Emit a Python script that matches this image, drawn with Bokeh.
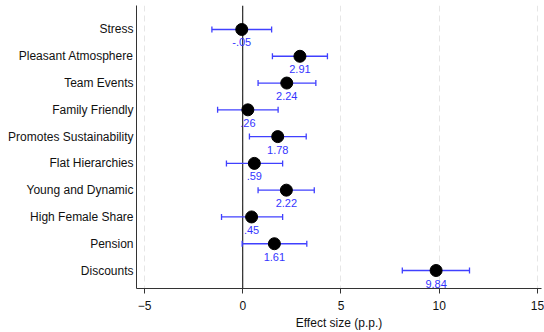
from bokeh.plotting import figure
from bokeh.models import Range1d, ColumnDataSource, FixedTicker, Whisker, TeeHead, Span
from bokeh.embed import file_html
from bokeh.resources import INLINE

categories = ["Stress", "Pleasant Atmosphere", "Team Events", "Family Friendly",
              "Promotes Sustainability", "Flat Hierarchies", "Young and Dynamic",
              "High Female Share", "Pension", "Discounts"]
effects = [-0.05, 2.91, 2.24, 0.26, 1.78, 0.59, 2.22, 0.45, 1.61, 9.84]
ci_low = [-1.57, 1.51, 0.78, -1.28, 0.34, -0.83, 0.78, -1.08, -0.03, 8.12]
ci_high = [1.47, 4.31, 3.72, 1.80, 3.23, 2.03, 3.64, 2.03, 3.26, 11.54]
x_ticks = [-5, 0, 5, 10, 15]


def stata_fmt(v):
    s = f"{v:.2f}"
    if s.startswith("0."):
        s = s[1:]
    elif s.startswith("-0."):
        s = "-" + s[2:]
    return s


rows = list(range(1, len(categories) + 1))
src = ColumnDataSource(dict(
    y=rows, x=effects, lo=ci_low, hi=ci_high,
    label=[stata_fmt(v) for v in effects],
))

FONT = "Liberation Sans"

p = figure(width=544, height=332, output_backend="svg", toolbar_location=None,
           x_range=Range1d(-5.407, 15.204), y_range=Range1d(10.672, 0.104),
           min_border_left=136, min_border_right=3, min_border_top=5,
           min_border_bottom=44)
p.outline_line_color = None
p.background_fill_color = "white"

# grid
p.xgrid.ticker = FixedTicker(ticks=x_ticks)
p.xgrid.grid_line_color = "#e6e6e6"
p.xgrid.grid_line_dash = "6 4"
p.xgrid.grid_line_width = 1
p.ygrid.visible = False

# zero reference line
zero = Span(location=0, dimension="height", line_color="black", line_width=1)
zero.level = "underlay"
p.add_layout(zero)

# confidence intervals
wh = Whisker(base="y", lower="lo", upper="hi", dimension="width", source=src,
             line_color="#4040ff", line_width=1.3,
             upper_head=TeeHead(size=6, line_color="#4040ff", line_width=1.3),
             lower_head=TeeHead(size=6, line_color="#4040ff", line_width=1.3))
wh.level = "underlay"
p.add_layout(wh)

p.scatter(x="x", y="y", source=src, size=12, color="black")
p.text(x="x", y="y", text="label", source=src, text_align="center",
       text_baseline="middle", y_offset=13, text_font_size="11px",
       text_color="#3535ff", text_font={"value": FONT})

# x axis
xa = p.xaxis[0]
xa.ticker = FixedTicker(ticks=x_ticks)
xa.axis_label = "Effect size (p.p.)"
xa.axis_label_text_font_style = "normal"
xa.axis_label_text_font = FONT
xa.axis_label_text_font_size = "12px"
xa.axis_label_text_color = "#111111"
xa.axis_label_standoff = 3
xa.major_label_text_font = FONT
xa.major_label_text_font_size = "12px"
xa.major_label_text_color = "#111111"
xa.major_label_standoff = 7
xa.major_tick_out = 5
xa.major_tick_in = 0
xa.minor_tick_line_color = None
xa.axis_line_color = "#333333"
xa.major_tick_line_color = "#333333"

# y axis
ya = p.yaxis[0]
ya.ticker = FixedTicker(ticks=rows)
ya.major_label_overrides = {r: c for r, c in zip(rows, categories)}
ya.major_label_text_font = FONT
ya.major_label_text_font_size = "12px"
ya.major_label_text_color = "#111111"
ya.major_label_standoff = 3
ya.major_tick_out = 0
ya.major_tick_in = 0
ya.major_tick_line_color = None
ya.minor_tick_line_color = None
ya.axis_line_color = "#333333"

open("out.html", "w").write(file_html(p, INLINE))
